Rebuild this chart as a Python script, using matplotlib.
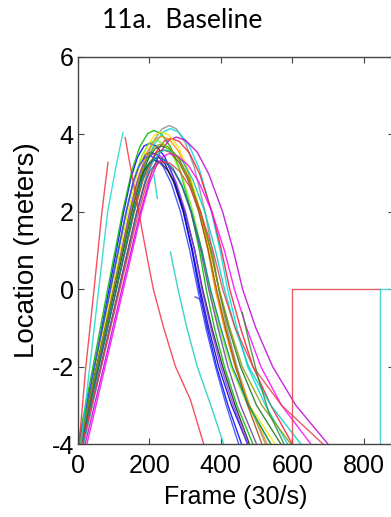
"""
Fig 11a — baseline trajectories (location vs frame), MATLAB-style plot.
"""
import matplotlib
matplotlib.use("Agg")
import matplotlib.pyplot as plt

# ── Trajectories: frame (30/s) and location (m) ───────────────────────────────
t01_f = [5, 46, 87, 128, 149, 167, 185, 200, 219, 243, 267, 295, 319, 339, 362, 388, 420, 458]
t01_y = [-4, -2, 0, 2, 2.90, 3.42, 3.70, 3.77, 3.70, 3.42, 2.90, 2, 1, 0, -1, -2, -3, -4]
t02_f = [3, 47, 91, 135, 155, 172, 189, 203, 221, 244, 267, 295, 321, 342, 366, 394, 430, 475]
t02_y = [-4, -2, 0, 2, 2.79, 3.23, 3.48, 3.54, 3.48, 3.23, 2.79, 2, 1, 0, -1, -2, -3, -4]
t03_f = [0, 42, 83, 125, 151, 173, 195, 212, 233, 259, 286, 317, 340, 359, 382, 410, 445, 490]
t03_y = [-4, -2, 0, 2, 3.07, 3.68, 4.02, 4.10, 4.02, 3.68, 3.07, 2, 1, 0, -1, -2, -3, -4]
t04_f = [8, 55, 103, 150, 182, 208, 235, 256, 276, 301, 326, 356, 376, 394, 417, 445, 480, 525]
t04_y = [-4, -2, 0, 2, 3.14, 3.78, 4.14, 4.23, 4.14, 3.78, 3.14, 2, 1, 0, -1, -2, -3, -4]
t05_f = [10, 58, 107, 155, 186, 212, 238, 259, 282, 311, 340, 374, 398, 419, 445, 475, 525, 587]
t05_y = [-4, -2, 0, 2, 3.10, 3.72, 4.06, 4.15, 4.06, 3.72, 3.10, 2, 1, 0, -1, -2, -3, -4]
t06_f = [20, 72, 123, 175, 205, 230, 255, 275, 301, 334, 366, 405, 435, 461, 498, 545, 610, 700]
t06_y = [-4, -2, 0, 2, 2.98, 3.54, 3.85, 3.93, 3.85, 3.54, 2.98, 2, 1, 0, -1, -2, -3, -4]
t07_f = [15, 65, 115, 165, 193, 217, 241, 260, 283, 312, 341, 375, 402, 425, 455, 490, 540, 600]
t07_y = [-4, -2, 0, 2, 2.97, 3.52, 3.82, 3.90, 3.82, 3.52, 2.97, 2, 1, 0, -1, -2, -3, -4]
t08_f = [5, 50, 95, 140, 168, 191, 214, 233, 255, 283, 310, 343, 367, 387, 412, 440, 480, 552]
t08_y = [-4, -2, 0, 2, 3.05, 3.65, 3.98, 4.06, 3.98, 3.65, 3.05, 2, 1, 0, -1, -2, -3, -4]
t09_f = [7, 53, 99, 145, 172, 194, 217, 235, 256, 282, 309, 340, 364, 384, 410, 440, 480, 530]
t09_y = [-4, -2, 0, 2, 2.99, 3.56, 3.87, 3.95, 3.87, 3.56, 2.99, 2, 1, 0, -1, -2, -3, -4]
t10_f = [5, 53, 102, 150, 169, 185, 201, 214, 231, 252, 274, 299, 327, 349, 375, 405, 440, 480]
t10_y = [-4, -2, 0, 2, 2.68, 3.06, 3.28, 3.33, 3.28, 3.06, 2.68, 2, 1, 0, -1, -2, -3, -4]
t11_f = [10, 55, 100, 145, 165, 182, 199, 213, 231, 253, 275, 301, 327, 347, 372, 400, 435, 475]
t11_y = [-4, -2, 0, 2, 2.76, 3.20, 3.44, 3.50, 3.44, 3.20, 2.76, 2, 1, 0, -1, -2, -3, -4]
t12_f = [3, 52, 101, 150, 175, 196, 216, 233, 255, 283, 310, 343, 372, 395, 422, 455, 500, 568]
t12_y = [-4, -2, 0, 2, 2.87, 3.36, 3.63, 3.70, 3.63, 3.36, 2.87, 2, 1, 0, -1, -2, -3, -4]
t13_f = [2, 46, 91, 135, 160, 180, 201, 217, 238, 264, 291, 322, 347, 369, 396, 428, 475, 540]
t13_y = [-4, -2, 0, 2, 2.94, 3.48, 3.78, 3.85, 3.78, 3.48, 2.94, 2, 1, 0, -1, -2, -3, -4]
t14_f = [8, 58, 108, 158, 182, 202, 222, 238, 258, 283, 308, 338, 365, 388, 413, 442, 475, 515]
t14_y = [-4, -2, 0, 2, 2.82, 3.28, 3.54, 3.60, 3.54, 3.28, 2.82, 2, 1, 0, -1, -2, -3, -4]
t15_f = [2, 46, 91, 135, 154, 170, 186, 199, 217, 239, 261, 287, 313, 335, 358, 385, 415, 450]
t15_y = [-4, -2, 0, 2, 2.74, 3.16, 3.39, 3.45, 3.39, 3.16, 2.74, 2, 1, 0, -1, -2, -3, -4]
t16_f = [15, 65, 115, 165, 189, 209, 229, 245, 267, 295, 322, 355, 385, 410, 440, 478, 540, 624]
t16_y = [-4, -2, 0, 2, 2.82, 3.28, 3.54, 3.60, 3.54, 3.28, 2.82, 2, 1, 0, -1, -2, -3, -4]
t17_f = [25, 76, 127, 178, 201, 220, 240, 255, 279, 309, 339, 375, 410, 438, 472, 512, 570, 652]
t17_y = [-4, -2, 0, 2, 2.76, 3.20, 3.44, 3.50, 3.44, 3.20, 2.76, 2, 1, 0, -1, -2, -3, -4]
t18_f = [12, 63, 114, 165, 185, 201, 218, 231, 248, 269, 291, 316, 344, 366, 392, 420, 455, 500]
t18_y = [-4, -2, 0, 2, 2.66, 3.04, 3.25, 3.30, 3.25, 3.04, 2.66, 2, 1, 0, -1, -2, -3, -4]
t19_f = [5, 53, 100, 148, 173, 194, 214, 231, 253, 281, 309, 343, 371, 395, 425, 460, 515, 596]
t19_y = [-4, -2, 0, 2, 2.89, 3.40, 3.68, 3.75, 3.68, 3.40, 2.89, 2, 1, 0, -1, -2, -3, -4]
t20_f = [10, 58, 107, 155, 175, 192, 209, 223, 242, 266, 290, 318, 347, 371, 400, 432, 478, 540]
t20_y = [-4, -2, 0, 2, 2.71, 3.12, 3.34, 3.40, 3.34, 3.12, 2.71, 2, 1, 0, -1, -2, -3, -4]
t21_f = [12, 65, 117, 170, 190, 207, 224, 238, 259, 285, 312, 343, 378, 405, 440, 490, 570, 686]
t21_y = [-4, -2, 0, 2, 2.66, 3.04, 3.25, 3.30, 3.25, 3.04, 2.66, 2, 1, 0, -1, -2, -3, -4]

# partial / broken tracks
p01_f = [3, 22, 45, 67, 84]
p01_y = [-4, -2, 0, 2, 3.28]
p02_f = [8, 33, 58, 83, 105, 126]
p02_y = [-4, -2, 0, 2, 3.1, 4.05]
p03_f = [132, 150, 170, 190, 211, 240, 273, 315, 352]
p03_y = [3.92, 3.0, 2.0, 1.0, 0, -1, -2, -2.86, -4]
p04_f = [210, 216, 222]
p04_y = [3.1, 2.75, 2.35]
p05_f = [259, 280, 305, 334, 372, 408]
p05_y = [0.96, 0, -1, -2, -3, -4]
p06_f = [328, 340, 350, 356, 362]
p06_y = [-0.2, -0.25, -0.4, -0.7, -1.0]
p07_f = [460, 480, 505, 535, 577]
p07_y = [-0.6, -1.4, -2.3, -3.2, -4]

# step traces at the right
s01_f = [600, 600, 845]
s01_y = [-4, 0, 0]
s02_f = [845, 845, 885]
s02_y = [-4, 0, 0]

tracks = [
    (t01_f, t01_y, (0.0, 0.0, 1.0)),
    (t02_f, t02_y, (0.0, 0.0, 0.75)),
    (t03_f, t03_y, (0.0, 0.7, 0.0)),
    (t04_f, t04_y, (0.55, 0.55, 0.55)),
    (t05_f, t05_y, (0.0, 0.85, 0.85)),
    (t06_f, t06_y, (0.75, 0.0, 0.85)),
    (t07_f, t07_y, (0.95, 0.1, 0.2)),
    (t08_f, t08_y, (0.95, 0.9, 0.0)),
    (t09_f, t09_y, (1.0, 0.55, 0.0)),
    (t10_f, t10_y, (0.1, 0.1, 0.1)),
    (t11_f, t11_y, (0.5, 0.2, 1.0)),
    (t12_f, t12_y, (0.1, 0.45, 0.1)),
    (t13_f, t13_y, (0.5, 0.95, 0.1)),
    (t14_f, t14_y, (0.6, 0.3, 0.05)),
    (t15_f, t15_y, (0.2, 0.25, 1.0)),
    (t16_f, t16_y, (0.0, 0.8, 0.75)),
    (t17_f, t17_y, (1.0, 0.0, 1.0)),
    (t18_f, t18_y, (0.4, 0.25, 0.6)),
    (t19_f, t19_y, (0.55, 0.6, 0.0)),
    (t20_f, t20_y, (0.0, 0.5, 0.5)),
    (t21_f, t21_y, (0.9, 0.25, 0.3)),
    (p01_f, p01_y, (0.95, 0.2, 0.25)),
    (p02_f, p02_y, (0.1, 0.85, 0.8)),
    (p03_f, p03_y, (0.95, 0.2, 0.25)),
    (p04_f, p04_y, (0.1, 0.8, 0.75)),
    (p05_f, p05_y, (0.1, 0.8, 0.75)),
    (p06_f, p06_y, (0.2, 0.2, 0.9)),
    (p07_f, p07_y, (0.2, 0.55, 0.2)),
    (s01_f, s01_y, (0.9, 0.25, 0.3)),
    (s02_f, s02_y, (0.2, 0.8, 0.8)),
]

# ── Figure ────────────────────────────────────────────────────────────────────
plt.rcParams["font.family"] = ["Liberation Sans", "DejaVu Sans"]
plt.rcParams["axes.unicode_minus"] = False   # plain hyphen, as in MATLAB output

fig = plt.figure(figsize=(3.91, 5.17), dpi=100)
# right spine sits just past the cropped edge, like the original
ax = fig.add_axes([78 / 391, 73 / 517, 316 / 391, 387 / 517])

for f, y, c in tracks:
    ax.plot(f, y, color=c, lw=1.0, alpha=0.85, solid_joinstyle="round")

ax.set_xlim(0, 885)
ax.set_ylim(-4, 6)
ax.set_xticks([0, 200, 400, 600, 800])
ax.set_yticks([-4, -2, 0, 2, 4, 6])
ax.tick_params(direction="in", length=4, width=0.8, top=True, right=True,
               labelsize=18, color="#444444")
ax.tick_params(axis="x", pad=7)
ax.tick_params(axis="y", pad=3)
for s in ax.spines.values():
    s.set_color("#444444")
    s.set_linewidth(1.0)

ax.set_xlabel("Frame (30/s)", fontsize=18, labelpad=5)
ax.set_ylabel("Location (meters)", fontsize=20, labelpad=8)

fig.text(102 / 391, 1 - 21 / 517, "11a.  Baseline", fontsize=19,
         family=["Lato", "DejaVu Sans"], ha="left", va="center")

fig.savefig("out.png", dpi=100)
